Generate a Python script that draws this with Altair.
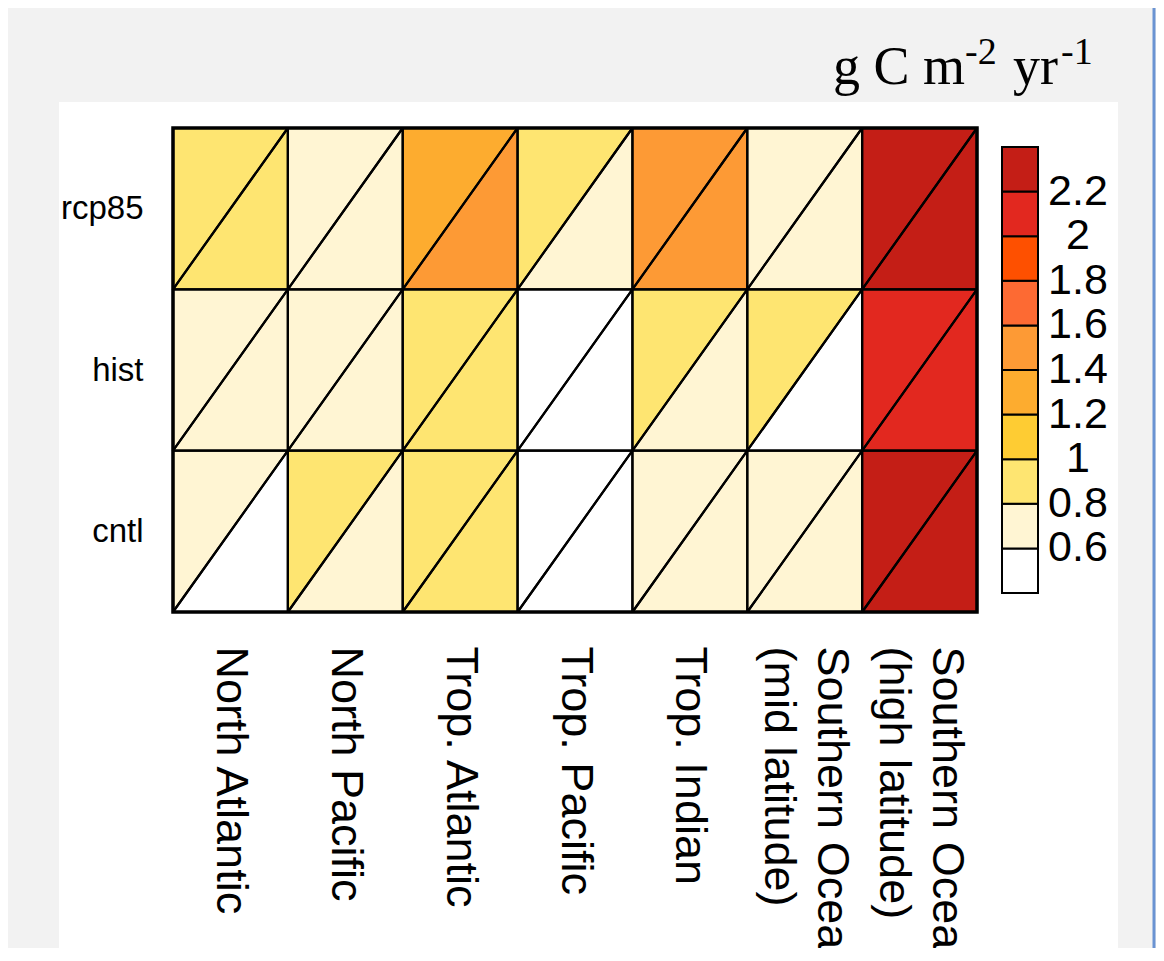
import json
import altair as alt
import pandas as pd

# ---------------- data ----------------
regions = [
    "North Atlantic",
    "North Pacific",
    "Trop. Atlantic",
    "Trop. Pacific",
    "Trop. Indian",
    "Southern Ocean\n(mid latitude)",
    "Southern Ocean\n(high latitude)",
]
runs = ["cntl", "hist", "rcp85"]  # bottom -> top

# upper-left triangle of each cell
upper_rcp85 = [0.9, 0.7, 1.3, 0.9, 1.5, 0.7, 2.3]
upper_hist = [0.7, 0.7, 0.9, 0.5, 0.9, 0.9, 2.1]
upper_cntl = [0.7, 0.9, 0.9, 0.5, 0.7, 0.7, 2.3]
# lower-right triangle of each cell
lower_rcp85 = [0.9, 0.7, 1.5, 0.7, 1.5, 0.7, 2.3]
lower_hist = [0.7, 0.7, 0.9, 0.5, 0.7, 0.5, 2.1]
lower_cntl = [0.5, 0.7, 0.9, 0.5, 0.7, 0.7, 2.3]

thresholds = [0.6, 0.8, 1.0, 1.2, 1.4, 1.6, 1.8, 2.0, 2.2]
colors = ["#ffffff", "#fff5d3", "#fee571", "#fecc33", "#fdac2f",
          "#fd9a35", "#fd6a33", "#fe5000", "#e2281f", "#c41e16"]
tick_labels = ["0.6", "0.8", "1", "1.2", "1.4", "1.6", "1.8", "2", "2.2"]
legend_lo = [0.4, 0.6, 0.8, 1.0, 1.2, 1.4, 1.6, 1.8, 2.0, 2.2]
legend_hi = [0.6, 0.8, 1.0, 1.2, 1.4, 1.6, 1.8, 2.0, 2.2, 2.4]
legend_mid = [0.5, 0.7, 0.9, 1.1, 1.3, 1.5, 1.7, 1.9, 2.1, 2.3]

upper = {"rcp85": upper_rcp85, "hist": upper_hist, "cntl": upper_cntl}
lower = {"rcp85": lower_rcp85, "hist": lower_hist, "cntl": lower_cntl}

# ------------- triangle table -------------
rows = []
for j, run in enumerate(runs):
    for i, reg in enumerate(regions):
        tid = f"{run}-{i}"
        u = upper[run][i]
        l = lower[run][i]
        # upper-left triangle: between diagonal and top edge
        rows.append(dict(tid=tid + "-u", x=i, y=j, y2=j + 1, value=u))
        rows.append(dict(tid=tid + "-u", x=i + 1, y=j + 1, y2=j + 1, value=u))
        # lower-right triangle: between bottom edge and diagonal
        rows.append(dict(tid=tid + "-l", x=i, y=j, y2=j, value=l))
        rows.append(dict(tid=tid + "-l", x=i + 1, y=j, y2=j + 1, value=l))
tri = pd.DataFrame(rows)

legend_df = pd.DataFrame(dict(lo=legend_lo, hi=legend_hi, value=legend_mid))
legend_lab = pd.DataFrame(dict(b=thresholds, label=tick_labels))
one = pd.DataFrame({"k": [0]})

color_scale = alt.Scale(type="threshold", domain=thresholds, range=colors)

x_lab = json.dumps([r.split("\n") for r in regions])
y_lab = json.dumps(runs)
two_line = json.dumps([len(r.split("\n")) > 1 for r in regions])

W, H = 804, 484
PAD = {"left": 165, "top": 120, "right": 179, "bottom": 336}

x_scale = alt.Scale(domain=[0, 7], nice=False, zero=False)
y_scale = alt.Scale(domain=[0, 3], nice=False, zero=False)

# ------------- layers -------------
panel = alt.Chart(one).mark_rect(color="white").encode(
    x=alt.value(-114), x2=alt.value(945), y=alt.value(-26), y2=alt.value(900)
)

blue = alt.Chart(one).mark_rule(color="#6a93d2", strokeWidth=3).encode(
    x=alt.value(981), y=alt.value(-130), y2=alt.value(900)
)

heat = alt.Chart(tri).mark_area(opacity=1, strokeWidth=0).encode(
    x=alt.X(
        "x:Q",
        scale=x_scale,
        axis=alt.Axis(
            values=[0.5, 1.5, 2.5, 3.5, 4.5, 5.5, 6.5],
            labelExpr=f"{x_lab}[floor(datum.value)]",
            labelAngle=90, labelAlign="left", labelBaseline="middle",
            labelFont="Liberation Sans", labelFontSize=45, labelColor="black",
            labelLineHeight=53, labelPadding=34, labelLimit=2000,
            labelOffset={
                "condition": {"test": f"{two_line}[floor(datum.value)]", "value": 27},
                "value": 0,
            },
            labelOverlap=False, ticks=False, domain=False, grid=False, title=None,
            zindex=2,
        ),
    ),
    y=alt.Y(
        "y:Q", stack=None,
        scale=y_scale,
        axis=alt.Axis(
            values=[0.5, 1.5, 2.5],
            labelExpr=f"{y_lab}[floor(datum.value)]",
            labelFont="Liberation Sans", labelFontSize=33, labelColor="black",
            labelPadding=30, labelBaseline="middle", labelLimit=500,
            ticks=False, domain=False, grid=False, title=None,
            zindex=2,
        ),
    ),
    y2="y2:Q",
    color=alt.Color("value:Q", scale=color_scale, legend=None),
    detail="tid:N",
)

outline = alt.Chart(tri).mark_area(
    fillOpacity=0, stroke="black", strokeWidth=2.2, strokeJoin="round"
).encode(
    x=alt.X("x:Q", scale=x_scale),
    y=alt.Y("y:Q", stack=None, scale=y_scale, axis=None),
    y2="y2:Q",
    detail="tid:N",
)

border = alt.Chart(one).mark_rect(filled=False, stroke="black", strokeWidth=3.5).encode(
    x=alt.XDatum(0), x2=alt.X2Datum(7),
    y=alt.YDatum(0, scale=y_scale, axis=None),
    y2=alt.Y2Datum(3),
)

leg_scale = alt.Scale(domain=[0.4, 2.4], range=[465, 19], nice=False, zero=False)

legend_rects = alt.Chart(legend_df).mark_rect(stroke="black", strokeWidth=2).encode(
    x=alt.value(829), x2=alt.value(865),
    y=alt.Y("lo:Q", scale=leg_scale, axis=None),
    y2="hi:Q",
    color=alt.Color("value:Q", scale=color_scale, legend=None),
)

legend_text = alt.Chart(legend_lab).mark_text(
    font="Liberation Sans", fontSize=43, align="center", baseline="middle", color="black"
).encode(
    x=alt.value(905),
    y=alt.Y("b:Q", scale=leg_scale, axis=None),
    text="label:N",
)

unit_main1 = alt.Chart(one).mark_text(
    text="g C m", font="Liberation Serif", fontSize=54, align="left",
    baseline="alphabetic", color="black"
).encode(x=alt.value(660), y=alt.value(-44))
unit_sup1 = alt.Chart(one).mark_text(
    text="-2", font="Liberation Serif", fontSize=38, align="left",
    baseline="alphabetic", color="black"
).encode(x=alt.value(792), y=alt.value(-64))
unit_main2 = alt.Chart(one).mark_text(
    text="yr", font="Liberation Serif", fontSize=54, align="left",
    baseline="alphabetic", color="black"
).encode(x=alt.value(840), y=alt.value(-44))
unit_sup2 = alt.Chart(one).mark_text(
    text="-1", font="Liberation Serif", fontSize=38, align="left",
    baseline="alphabetic", color="black"
).encode(x=alt.value(888), y=alt.value(-64))

chart = alt.layer(
    panel, blue, heat, outline, border, legend_rects, legend_text,
    unit_main1, unit_sup1, unit_main2, unit_sup2,
).resolve_scale(y="independent").properties(
    width=W, height=H,
    padding=PAD,
    autosize=alt.AutoSizeParams(type="none"),
    background="#f2f2f2",
).configure_view(stroke=None)

chart.save("out.html", embed_options={"renderer": "svg", "actions": False})
